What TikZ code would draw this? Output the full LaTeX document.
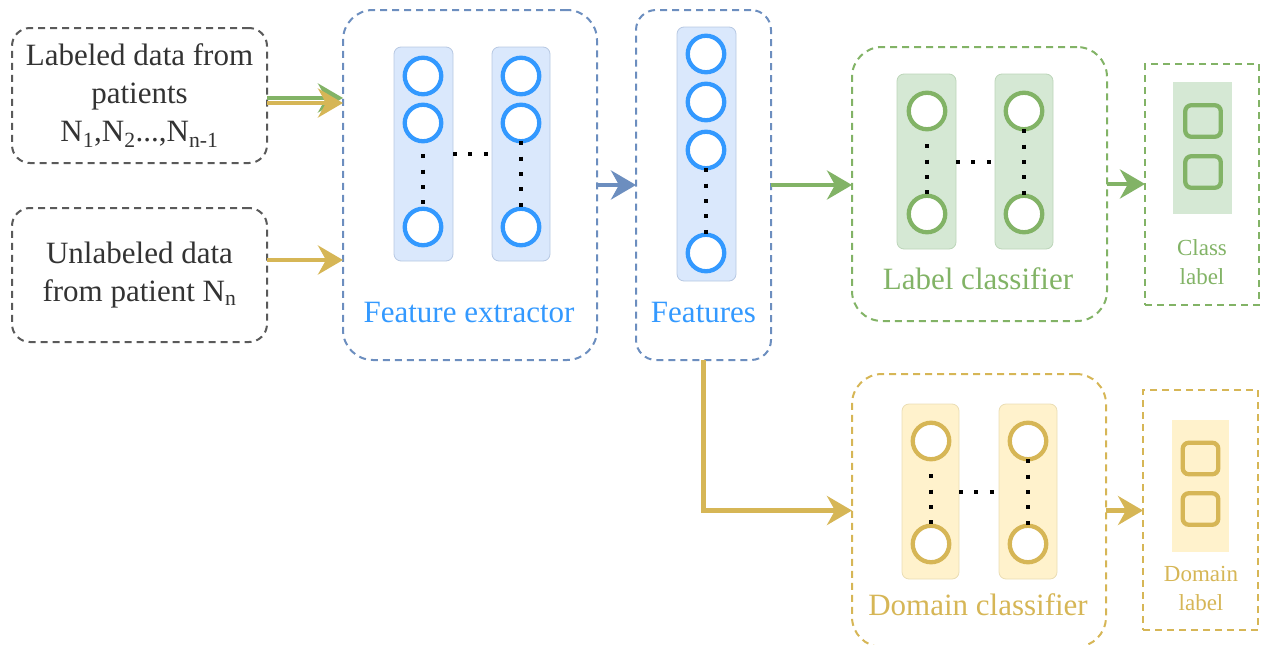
\documentclass[tikz,border=0pt]{standalone}
\usepackage{fontspec}
\setmainfont{Liberation Serif}
\usetikzlibrary{arrows.meta,calc}

\definecolor{boxgray}{HTML}{5A5A5A}
\definecolor{txtgray}{HTML}{333333}
\definecolor{steel}{HTML}{6C8EBF}
\definecolor{bright}{HTML}{3399FF}
\definecolor{bluefill}{HTML}{DAE8FC}
\definecolor{blueedge}{HTML}{B7C8E2}
\definecolor{leaf}{HTML}{82B366}
\definecolor{leaffill}{HTML}{D5E8D4}
\definecolor{leafedge}{HTML}{BCD5B9}
\definecolor{gold}{HTML}{D6B656}
\definecolor{goldfill}{HTML}{FFF2CC}
\definecolor{goldedge}{HTML}{EADDB4}

\begin{document}
\begin{tikzpicture}[x=1pt,y=-1pt,
  frame/.style={draw=#1, dash pattern=on 7pt off 5pt, line width=2pt,
    inner sep=0pt, outer sep=0pt},
  srcbox/.style={frame=boxgray, rounded corners=18pt, minimum width=255pt,
    minimum height=135pt, align=center, text=txtgray,
    font=\fontsize{31}{38}\selectfont},
  layer/.style n args={2}{draw=#2, fill=#1, line width=0.8pt,
    rounded corners=7pt, inner sep=0pt, outer sep=0pt},
  neuron/.style={circle, draw=#1, line width=4.3pt, fill=white,
    minimum size=36.5pt, inner sep=0pt, outer sep=0pt},
  outcell/.style={draw=#1, line width=4.3pt, rounded corners=6pt,
    minimum width=35.5pt, minimum height=31.5pt, inner sep=0pt, outer sep=0pt},
  biglabel/.style={text=#1, font=\fontsize{31}{38}\selectfont, anchor=base, inner sep=0pt},
  smalllabel/.style={text=#1, font=\fontsize{23}{29}\selectfont, align=center, inner sep=0pt},
  dotrow/.style={line width=4pt, dash pattern=on 4pt off 11.4pt, black},
  flow/.style={draw=#1, line width=4.2pt,
    -{Stealth[length=25pt, width=29pt, inset=8pt]}}
]
\useasboundingbox (0,0) rectangle (1261,645);

% ---------- input data ----------
\node[srcbox] (lab) at (139.5,95.5)
  {Labeled data from\\patients\\N\textsubscript{1},N\textsubscript{2}...,N\textsubscript{n-1}};
\node[srcbox, minimum height=134pt] (unl) at (139.5,275)
  {Unlabeled data\\from patient N\textsubscript{n}};

% ---------- containers ----------
\node[frame=steel, rounded corners=30pt, minimum width=254pt, minimum height=350pt] (fe) at (470,185) {};
\node[frame=steel, rounded corners=20pt, minimum width=135pt, minimum height=350pt] (ft) at (703.5,185) {};
\node[frame=leaf, rounded corners=30pt, minimum width=255pt, minimum height=274pt] (lc) at (979.5,184) {};
\node[frame=leaf, minimum width=114pt, minimum height=241pt] (cl) at (1202,184.5) {};
\node[frame=gold, rounded corners=30pt, minimum width=254pt, minimum height=273pt] (dc) at (979,510.5) {};
\node[frame=gold, minimum width=115pt, minimum height=240pt] (dl) at (1200.5,510) {};

% ---------- feature extractor ----------
\node[layer={bluefill}{blueedge}, minimum width=59pt, minimum height=214pt] (fec1) at (423.5,154) {};
\node[layer={bluefill}{blueedge}, minimum width=58pt, minimum height=214pt] (fec2) at (521,154) {};
\foreach \c/\x in {1/423,2/521}{
  \node[neuron=bright] (fe\c a) at (\x,76) {};
  \node[neuron=bright] (fe\c b) at (\x,123) {};
  \node[neuron=bright] (fe\c c) at (\x,227) {};
}
\draw[dotrow, shorten <=13pt] (fe1b.south) -- (fe1c.north);
\draw[dotrow] (fe2b.south) -- (fe2c.north);
\draw[dotrow] (fec1.east) -- (fec2.west);
\node[biglabel=bright] (fetxt) at (469,322) {Feature extractor};

% ---------- features ----------
\node[layer={bluefill}{blueedge}, minimum width=59pt, minimum height=254pt] (ftc) at (706.5,154) {};
\node[neuron=bright] (ft1) at (706,54) {};
\node[neuron=bright] (ft2) at (706,102) {};
\node[neuron=bright] (ft3) at (706,150) {};
\node[neuron=bright] (ft4) at (706,253) {};
\draw[dotrow] (ft3.south) -- (ft4.north);
\node[biglabel=bright] (fttxt) at (703.5,322) {Features};

% ---------- label classifier ----------
\node[layer={leaffill}{leafedge}, minimum width=59pt, minimum height=175pt] (lcc1) at (926.5,161.5) {};
\node[layer={leaffill}{leafedge}, minimum width=58pt, minimum height=175pt] (lcc2) at (1024,161.5) {};
\foreach \c/\x in {1/927,2/1024}{
  \node[neuron=leaf] (lc\c a) at (\x,111) {};
  \node[neuron=leaf] (lc\c b) at (\x,214) {};
}
\draw[dotrow, shorten <=15pt] (lc1a.south) -- (lc1b.north);
\draw[dotrow] (lc2a.south) -- (lc2b.north);
\draw[dotrow] (lcc1.east) -- (lcc2.west);
\node[biglabel=leaf] (lctxt) at (978,289) {Label classifier};

% ---------- class label ----------
\node[fill=leaffill, minimum width=59pt, minimum height=132pt, inner sep=0pt] (clc) at (1202.5,148) {};
\node[outcell=leaf] (cl1) at (1203,121) {};
\node[outcell=leaf] (cl2) at (1203,172) {};
\node[smalllabel=leaf] (cltxt) at (1202,262) {Class\\label};

% ---------- domain classifier ----------
\node[layer={goldfill}{goldedge}, minimum width=57pt, minimum height=175pt] (dcc1) at (930.5,491.5) {};
\node[layer={goldfill}{goldedge}, minimum width=58pt, minimum height=175pt] (dcc2) at (1028,491.5) {};
\foreach \c/\x in {1/931,2/1028}{
  \node[neuron=gold] (dc\c a) at (\x,441) {};
  \node[neuron=gold] (dc\c b) at (\x,544) {};
}
\draw[dotrow, shorten <=15pt] (dc1a.south) -- (dc1b.north);
\draw[dotrow] (dc2a.south) -- (dc2b.north);
\draw[dotrow] (dcc1.east) -- (dcc2.west);
\node[biglabel=gold] (dctxt) at (978,615) {Domain classifier};

% ---------- domain label ----------
\node[fill=goldfill, minimum width=57pt, minimum height=132pt, inner sep=0pt] (dlc) at (1200.5,486) {};
\node[outcell=gold] (dl1) at (1200.5,458.5) {};
\node[outcell=gold] (dl2) at (1200.5,509) {};
\node[smalllabel=gold] (dltxt) at (1201,588) {Domain\\label};

% ---------- connectors ----------
\coordinate (g0) at ($(lab.east)+(0,2.5)$);
\coordinate (y0) at ($(lab.east)+(0,7.5)$);
\coordinate (y1) at ($(unl.east)+(0,-15)$);
\draw[flow=leaf] (g0) -- (g0 -| fe.west);
\draw[flow=gold] (y0) -- (y0 -| fe.west);
\draw[flow=gold] (y1) -- (y1 -| fe.west);
\draw[flow=steel] (fe.east) -- (ft.west);
\draw[flow=leaf] (ft.east) -- (ft.east -| lc.west);
\draw[flow=leaf] (lc.east) -- (lc.east -| cl.west);
\draw[flow=gold] (ft.south) |- (dc.west);
\draw[flow=gold] (dc.east) -- (dc.east -| dl.west);
\end{tikzpicture}
\end{document}
